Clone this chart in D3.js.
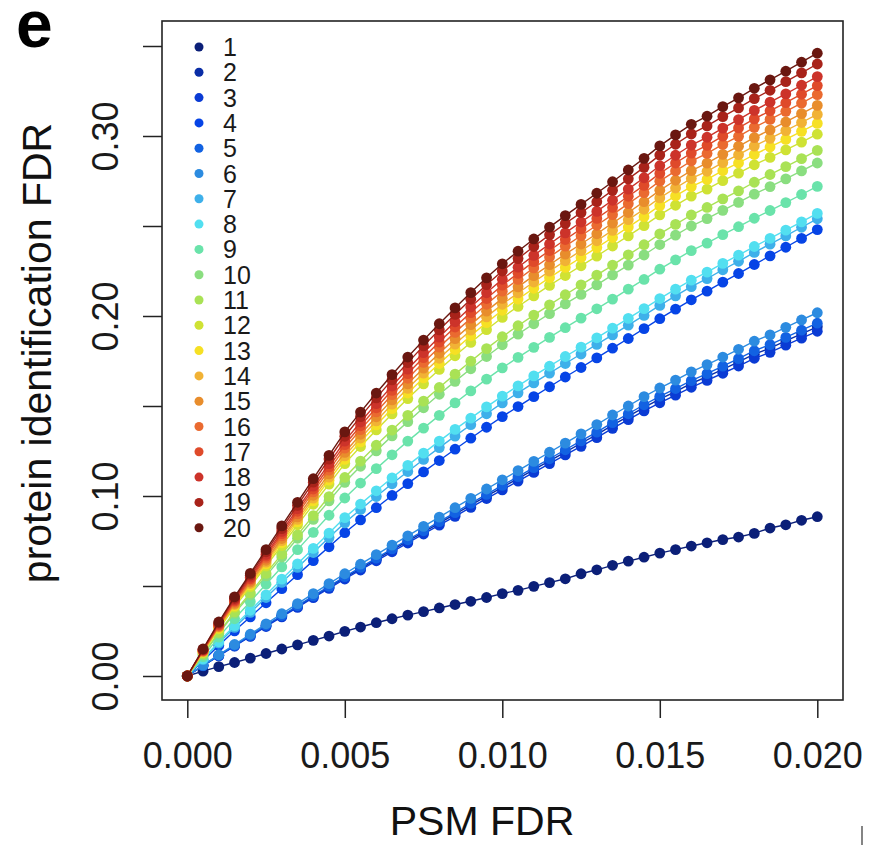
<!DOCTYPE html>
<html>
<head>
<meta charset="utf-8">
<script src="https://cdn.jsdelivr.net/npm/d3@7/dist/d3.min.js"></script>
<style>
  html, body { margin: 0; padding: 0; background: #fff; }
  svg { display: block; font-family: "Liberation Sans", Arial, Helvetica, sans-serif; }
</style>
</head>
<body>
<svg id="chart" width="879" height="845"></svg>
<script>
// PSM FDR thresholds (x values shared by every series)
const psmFdr = [0, 0.0005, 0.001, 0.0015, 0.002, 0.0025, 0.003, 0.0035, 0.004, 0.0045,
  0.005, 0.0055, 0.006, 0.0065, 0.007, 0.0075, 0.008, 0.0085, 0.009, 0.0095,
  0.01, 0.0105, 0.011, 0.0115, 0.012, 0.0125, 0.013, 0.0135, 0.014, 0.0145,
  0.015, 0.0155, 0.016, 0.0165, 0.017, 0.0175, 0.018, 0.0185, 0.019, 0.0195, 0.02];

const seriesLabels = ["1","2","3","4","5","6","7","8","9","10","11","12","13","14","15","16","17","18","19","20"];

// protein identification FDR for each series
const run1 = [0, .0027, .0052, .0075, .0099, .0125, .0150, .0173, .0198, .0222, .0248, .0272, .0296, .0318, .0338, .0358, .0378, .0397, .0415, .0436, .0458, .0476, .0498, .0519, .0540, .0568, .0590, .0615, .0638, .0660, .0683, .0702, .0722, .0740, .0758, .0772, .0792, .0822, .0840, .0865, .0885];
const run2 = [0, .0058, .0113, .0168, .0223, .0279, .0333, .0386, .0440, .0493, .0546, .0597, .0648, .0699, .0749, .0799, .0849, .0899, .0949, .0999, .1048, .1097, .1146, .1195, .1244, .1293, .1341, .1394, .1442, .1492, .1538, .1580, .1625, .1663, .1703, .1745, .1788, .1822, .1862, .1901, .1940];
const run3 = [0, .0057, .0112, .0166, .0220, .0275, .0328, .0381, .0435, .0487, .0539, .0589, .0640, .0690, .0739, .0789, .0838, .0887, .0937, .0986, .1034, .1083, .1131, .1180, .1228, .1276, .1324, .1376, .1424, .1473, .1518, .1560, .1604, .1642, .1682, .1722, .1765, .1798, .1838, .1877, .1915];
const run4 = [0, .0085, .0170, .0251, .0328, .0407, .0485, .0563, .0641, .0718, .0796, .0867, .0935, .1003, .1069, .1134, .1197, .1260, .1321, .1382, .1441, .1497, .1552, .1607, .1661, .1714, .1767, .1821, .1875, .1930, .1985, .2038, .2090, .2138, .2188, .2236, .2286, .2334, .2382, .2431, .2480];
const run5 = [0, .0058, .0115, .0170, .0225, .0282, .0336, .0390, .0445, .0498, .0552, .0603, .0655, .0706, .0757, .0807, .0858, .0908, .0959, .1009, .1059, .1108, .1158, .1207, .1257, .1306, .1355, .1408, .1457, .1507, .1554, .1597, .1641, .1680, .1721, .1763, .1807, .1841, .1881, .1921, .1960];
const run6 = [0, .0060, .0118, .0175, .0232, .0290, .0346, .0402, .0458, .0513, .0568, .0621, .0674, .0727, .0779, .0831, .0883, .0935, .0987, .1039, .1090, .1141, .1192, .1243, .1294, .1345, .1397, .1450, .1500, .1552, .1600, .1644, .1690, .1730, .1772, .1815, .1860, .1895, .1937, .1978, .2018];
const run7 = [0, .0091, .0183, .0270, .0353, .0436, .0520, .0603, .0686, .0769, .0851, .0925, .0997, .1068, .1136, .1203, .1269, .1333, .1396, .1457, .1517, .1573, .1628, .1683, .1736, .1789, .1842, .1895, .1949, .2003, .2059, .2112, .2163, .2208, .2257, .2304, .2353, .2399, .2445, .2493, .2540];
const run8 = [0, .0095, .0190, .0280, .0365, .0451, .0538, .0623, .0709, .0794, .0880, .0955, .1029, .1101, .1170, .1238, .1305, .1370, .1433, .1495, .1555, .1612, .1667, .1721, .1775, .1827, .1879, .1933, .1987, .2041, .2097, .2149, .2199, .2244, .2292, .2338, .2386, .2431, .2477, .2523, .2570];
const run9 = [0, .0108, .0216, .0318, .0413, .0510, .0606, .0702, .0798, .0893, .0989, .1072, .1152, .1229, .1305, .1377, .1448, .1517, .1584, .1649, .1712, .1770, .1826, .1881, .1935, .1988, .2040, .2094, .2149, .2203, .2260, .2312, .2363, .2405, .2452, .2496, .2543, .2586, .2630, .2675, .2720];
const run10 = [0, .0119, .0237, .0348, .0451, .0556, .0661, .0765, .0870, .0973, .1076, .1165, .1251, .1334, .1413, .1490, .1565, .1637, .1707, .1775, .1840, .1899, .1957, .2013, .2067, .2120, .2173, .2228, .2283, .2339, .2397, .2449, .2500, .2541, .2587, .2631, .2677, .2719, .2762, .2806, .2850];
const run11 = [0, .0122, .0242, .0356, .0462, .0570, .0677, .0784, .0891, .0997, .1103, .1194, .1282, .1366, .1448, .1527, .1603, .1677, .1749, .1819, .1885, .1946, .2005, .2062, .2118, .2173, .2227, .2283, .2340, .2396, .2456, .2509, .2561, .2603, .2651, .2695, .2743, .2786, .2830, .2874, .2920];
const run12 = [0, .0131, .0261, .0383, .0496, .0611, .0725, .0840, .0954, .1066, .1180, .1275, .1367, .1456, .1541, .1623, .1703, .1779, .1853, .1924, .1992, .2053, .2112, .2170, .2225, .2279, .2333, .2389, .2445, .2502, .2562, .2615, .2666, .2705, .2752, .2794, .2840, .2881, .2923, .2966, .3010];
const run13 = [0, .0133, .0266, .0391, .0506, .0623, .0740, .0856, .0973, .1088, .1203, .1301, .1395, .1485, .1572, .1656, .1736, .1814, .1890, .1963, .2032, .2094, .2154, .2213, .2270, .2325, .2380, .2436, .2494, .2552, .2613, .2667, .2719, .2759, .2807, .2850, .2897, .2939, .2981, .3026, .3070];
const run14 = [0, .0135, .0271, .0397, .0514, .0633, .0752, .0870, .0988, .1105, .1223, .1322, .1417, .1510, .1598, .1683, .1765, .1844, .1921, .1995, .2065, .2128, .2189, .2249, .2307, .2363, .2418, .2476, .2535, .2593, .2656, .2711, .2764, .2804, .2852, .2896, .2944, .2987, .3030, .3075, .3120];
const run15 = [0, .0138, .0275, .0403, .0522, .0643, .0764, .0884, .1004, .1123, .1242, .1343, .1440, .1534, .1623, .1710, .1793, .1874, .1952, .2027, .2098, .2162, .2224, .2285, .2344, .2400, .2457, .2516, .2575, .2635, .2698, .2754, .2808, .2849, .2898, .2943, .2991, .3034, .3078, .3124, .3170];
const run16 = [0, .0140, .0280, .0411, .0532, .0655, .0778, .0901, .1023, .1144, .1266, .1369, .1467, .1563, .1654, .1742, .1827, .1909, .1988, .2065, .2138, .2203, .2267, .2328, .2388, .2446, .2504, .2563, .2624, .2685, .2749, .2806, .2861, .2903, .2953, .2998, .3048, .3092, .3137, .3183, .3230];
const run17 = [0, .0142, .0284, .0417, .0540, .0666, .0791, .0915, .1039, .1162, .1285, .1390, .1490, .1587, .1680, .1769, .1855, .1939, .2019, .2097, .2171, .2237, .2302, .2364, .2425, .2484, .2542, .2603, .2665, .2726, .2792, .2850, .2905, .2948, .2999, .3045, .3095, .3140, .3185, .3232, .3280];
const run18 = [0, .0145, .0289, .0424, .0549, .0676, .0803, .0929, .1055, .1180, .1305, .1411, .1513, .1611, .1705, .1796, .1883, .1968, .2050, .2129, .2204, .2271, .2337, .2400, .2462, .2522, .2581, .2643, .2705, .2768, .2835, .2893, .2950, .2993, .3044, .3091, .3142, .3188, .3234, .3282, .3330];
const run19 = [0, .0148, .0295, .0432, .0560, .0690, .0819, .0948, .1077, .1205, .1332, .1441, .1545, .1645, .1741, .1834, .1923, .2009, .2093, .2174, .2250, .2319, .2386, .2451, .2514, .2574, .2635, .2698, .2762, .2826, .2894, .2954, .3012, .3056, .3108, .3156, .3208, .3254, .3302, .3351, .3400];
const run20 = [0, .0150, .0300, .0440, .0570, .0702, .0834, .0965, .1096, .1226, .1356, .1466, .1572, .1674, .1772, .1866, .1957, .2045, .2130, .2212, .2290, .2360, .2428, .2494, .2558, .2620, .2682, .2746, .2811, .2876, .2945, .3006, .3065, .3110, .3163, .3212, .3265, .3312, .3360, .3410, .3460];

const seriesValues = [run1, run2, run3, run4, run5, run6, run7, run8, run9, run10,
  run11, run12, run13, run14, run15, run16, run17, run18, run19, run20];

const seriesColors = ["#0b1f78", "#0a2da6", "#0a3bd4", "#0644e6", "#1262e2", "#2c8be0",
  "#3eb0ea", "#52dff0", "#6ae3aa", "#8ade80", "#a9e255", "#cfe234", "#f6e024", "#f1b235",
  "#e88d2c", "#ea6a30", "#df4a2a", "#cc332a", "#a8231a", "#6a1710"];

const xTicks = [0, 0.005, 0.01, 0.015, 0.02];
const yTicks = [0, 0.05, 0.10, 0.15, 0.20, 0.25, 0.30, 0.35];
const yLabelled = [0, 0.10, 0.20, 0.30];

const svg = d3.select("#chart");
const box = { left: 162, top: 21, right: 843, bottom: 700 };

const x = d3.scaleLinear().domain([0, 0.02]).range([187.3, 817.3]);
const y = d3.scaleLinear().domain([0, 0.35]).range([676, 46]);

// x axis
const xAxis = svg.append("g")
  .attr("transform", `translate(0,${box.bottom})`)
  .call(d3.axisBottom(x).tickValues(xTicks).tickSize(18).tickPadding(0)
    .tickFormat(d3.format(".3f")));
xAxis.select(".domain").remove();
xAxis.selectAll(".tick line").attr("stroke", "#222").attr("stroke-width", 1.5);
xAxis.selectAll(".tick text")
  .attr("y", 68).attr("dy", 0)
  .attr("font-size", 36).attr("fill", "#1a1a1a")
  .attr("font-family", "Liberation Sans, Arial, sans-serif");

// y axis
const yAxis = svg.append("g")
  .attr("transform", `translate(${box.left},0)`)
  .call(d3.axisLeft(y).tickValues(yTicks).tickSize(19)
    .tickFormat(d => yLabelled.some(v => Math.abs(v - d) < 1e-9) ? d3.format(".2f")(d) : ""));
yAxis.select(".domain").remove();
yAxis.selectAll(".tick line").attr("stroke", "#222").attr("stroke-width", 1.5);
yAxis.selectAll(".tick text")
  .attr("x", null).attr("dy", null)
  .attr("transform", "translate(-44,0) rotate(-90)")
  .attr("text-anchor", "middle")
  .attr("font-size", 36).attr("fill", "#1a1a1a")
  .attr("font-family", "Liberation Sans, Arial, sans-serif");

// series: line then points, drawn in order so later series sit on top
const line = d3.line().x((d, i) => x(psmFdr[i])).y(d => y(d));
const plot = svg.append("g");
seriesValues.forEach((vals, s) => {
  const g = plot.append("g");
  g.append("path")
    .attr("d", line(vals))
    .attr("fill", "none")
    .attr("stroke", seriesColors[s])
    .attr("stroke-width", 1.4);
  g.selectAll("circle")
    .data(vals)
    .join("circle")
    .attr("cx", (d, i) => x(psmFdr[i]))
    .attr("cy", d => y(d))
    .attr("r", 5.4)
    .attr("fill", seriesColors[s]);
});

// plot frame
svg.append("rect")
  .attr("x", box.left).attr("y", box.top)
  .attr("width", box.right - box.left).attr("height", box.bottom - box.top)
  .attr("fill", "none").attr("stroke", "#222").attr("stroke-width", 1.6);

// legend
const legend = svg.append("g");
seriesLabels.forEach((lab, i) => {
  const ly = 47 + i * 25.3;
  legend.append("circle").attr("cx", 199).attr("cy", ly).attr("r", 4.5)
    .attr("fill", seriesColors[i]);
  legend.append("text").attr("x", 223).attr("y", ly + 9)
    .attr("font-size", 25).attr("fill", "#1a1a1a").text(lab);
});

// axis titles
svg.append("text")
  .attr("transform", "translate(51,353) rotate(-90)")
  .attr("text-anchor", "middle")
  .attr("font-size", 41).attr("fill", "#111")
  .text("protein identification FDR");

svg.append("text")
  .attr("x", 482).attr("y", 835)
  .attr("text-anchor", "middle")
  .attr("font-size", 41).attr("fill", "#111")
  .text("PSM FDR");

// panel letter
svg.append("text")
  .attr("x", 16).attr("y", 47)
  .attr("font-size", 66).attr("font-weight", "bold").attr("fill", "#000")
  .text("e");

// stray edge mark at the lower right
svg.append("line")
  .attr("x1", 862).attr("x2", 862).attr("y1", 826).attr("y2", 845)
  .attr("stroke", "#333").attr("stroke-width", 1.2);
</script>
</body>
</html>
